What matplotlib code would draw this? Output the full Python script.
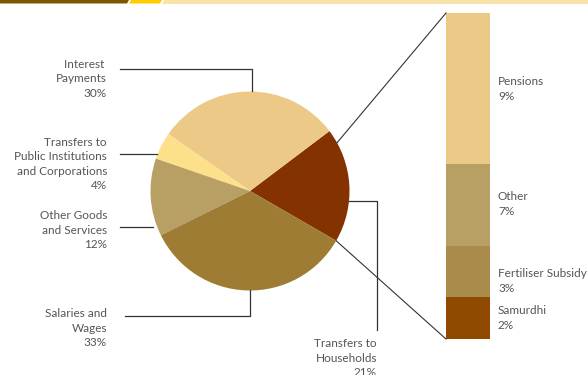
import numpy as np
import matplotlib.pyplot as plt
from matplotlib.patches import Polygon

plt.rcParams['font.family'] = ['Lato', 'DejaVu Sans']

# pie slices (drawn shares)
pie_names = ["Transfers to\nHouseholds\n21%", "Interest \nPayments\n30%",
             "Transfers to\nPublic Institutions\nand Corporations\n4%",
             "Other Goods\nand Services\n12%", "Salaries and\nWages\n33%"]
pie_values = [18.6, 30.0, 4.4, 12.6, 34.3]
pie_colors = ["#843200", "#ecc987", "#fce08a", "#b8a064", "#9e7c33"]

# breakdown of transfers to households (top to bottom)
bar_names = ["Pensions\n9%", "Other\n7%", "Fertiliser Subsidy\n3%", "Samurdhi\n2%"]
bar_values = [8.6, 4.7, 2.9, 2.4]
bar_colors = ["#ecc987", "#b8a064", "#a98b4c", "#8f4a00"]

W, H = 588, 375
fig = plt.figure(figsize=(W / 100, H / 100), dpi=100)
ax = fig.add_axes([0, 0, 1, 1])

def Y(y):
    return H - y

# top band
ax.add_patch(Polygon([(0, Y(0)), (129, Y(0)), (127, Y(3.5)), (0, Y(3.5))], color="#7d5700", lw=0))
ax.add_patch(Polygon([(131, Y(0)), (162, Y(0)), (160, Y(3.5)), (129, Y(3.5))], color="#ffcc00", lw=0))
ax.add_patch(Polygon([(164, Y(0)), (W, Y(0)), (W, Y(3.5)), (162, Y(3.5))], color="#f8e4aa", lw=0))

cx, cy, r = 250, Y(191), 99.5
ax.pie(pie_values, colors=pie_colors, startangle=-30, counterclock=True,
       center=(cx, cy), radius=r, frame=True,
       wedgeprops=dict(linewidth=0))
ax.set_xlim(0, W)
ax.set_ylim(0, H)
ax.axis("off")

# stacked bar
bx, bw = 446, 44
top, bottom = 13, 339
scale = (bottom - top) / sum(bar_values)
y0 = Y(bottom)
for v, c in zip(bar_values[::-1], bar_colors[::-1]):
    ax.bar(bx, v * scale, width=bw, bottom=y0, color=c, align="edge", lw=0)
    y0 += v * scale

# connectors pie -> bar
lc = "#333333"
a1, a2 = np.radians(29), np.radians(-30)
ax.plot([cx + r * np.cos(a1), bx], [cy + r * np.sin(a1), Y(top)], color=lc, lw=0.8)
ax.plot([cx + r * np.cos(a2), bx], [cy + r * np.sin(a2), Y(bottom)], color=lc, lw=0.8)

# leader lines
lw = 0.9
ax.plot([120, 252, 252], [Y(69), Y(69), Y(91)], color=lc, lw=lw)
ax.plot([120, 157], [Y(154), Y(154)], color=lc, lw=lw)
ax.plot([120, 153], [Y(227), Y(227)], color=lc, lw=lw)
ax.plot([125, 250, 250], [Y(316), Y(316), Y(290)], color=lc, lw=lw)
ax.plot([349, 377, 377], [Y(201), Y(201), Y(330)], color=lc, lw=lw)

tc = "#555555"
fs = 8.5
left_pos = [(377, 358), (107, 79), (107, 164), (107, 230), (107, 328)]
for name, (x, y) in zip(pie_names, left_pos):
    ax.text(x, Y(y), name, ha="right", va="center", fontsize=fs, color=tc,
            multialignment="right", linespacing=1.37)

bar_pos = [89, 204, 281, 318]
for name, y in zip(bar_names, bar_pos):
    ax.text(498, Y(y), name, ha="left", va="center", fontsize=fs, color=tc,
            linespacing=1.37)

fig.savefig("out.png", dpi=100)
